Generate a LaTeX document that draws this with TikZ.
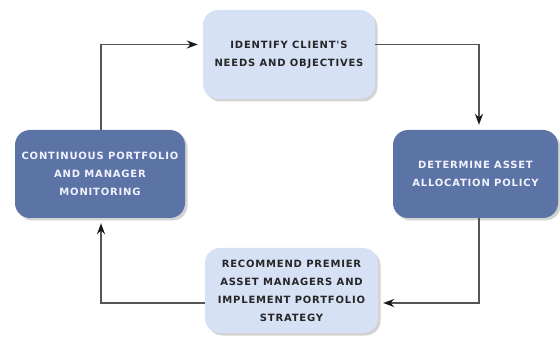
\documentclass[tikz,border=0pt]{standalone}
\usepackage{fontspec}
\newfontfamily\boxfont[LetterSpace=8]{DejaVu Sans Bold}
\usetikzlibrary{arrows.meta,shadows}

\definecolor{lightbox}{HTML}{D7E1F5}
\definecolor{darkbox}{HTML}{5B73A5}
\definecolor{linegray}{HTML}{555555}

\tikzset{
    stage/.style={rounded corners=15pt, minimum width=#1, align=center,
        font=\boxfont\fontsize{10}{18}\selectfont,
        drop shadow={opacity=0.35, shadow xshift=2.5pt, shadow yshift=-2.5pt}},
    lightstage/.style={stage=#1, fill=lightbox, text=black!85},
    darkstage/.style={stage=#1, fill=darkbox, text=white!95!blue},
    flow/.style={draw=linegray, line width=1.6pt, -{Stealth[length=11pt,width=8pt,color=black!90]}, shorten >=5pt}
}

\begin{document}
\begin{tikzpicture}[x=1pt,y=1pt]
            \useasboundingbox (0,0) rectangle (560,-339);

            % Top stage
            \node[lightstage=172pt, minimum height=89pt] (top) at (289,-54.5)
                {IDENTIFY CLIENT'S\\NEEDS AND OBJECTIVES};

            % Right stage
            \node[darkstage=165pt, minimum height=88pt] (rgt) at (475.5,-174)
                {DETERMINE ASSET\\ALLOCATION POLICY};

            % Bottom stage
            \node[lightstage=173pt, minimum height=85pt] (bot) at (291.5,-290.5)
                {RECOMMEND PREMIER\\ASSET MANAGERS AND\\IMPLEMENT PORTFOLIO\\STRATEGY};

            % Left stage
            \node[darkstage=170pt, minimum height=88pt] (lft) at (100,-174)
                {CONTINUOUS PORTFOLIO\\AND MANAGER\\MONITORING};

            % Connectors round the cycle
            \draw[flow] ([yshift=10pt]top.east) -| ([xshift=3.5pt]rgt.north);
            \draw[flow] ([xshift=3.5pt]rgt.south) |- ([yshift=-12.5pt]bot.east);
            \draw[flow] ([yshift=-12.5pt]bot.west) -| ([xshift=1pt]lft.south);
            \draw[flow] ([xshift=1pt]lft.north) |- ([yshift=10pt]top.west);
        \end{tikzpicture}
\end{document}
